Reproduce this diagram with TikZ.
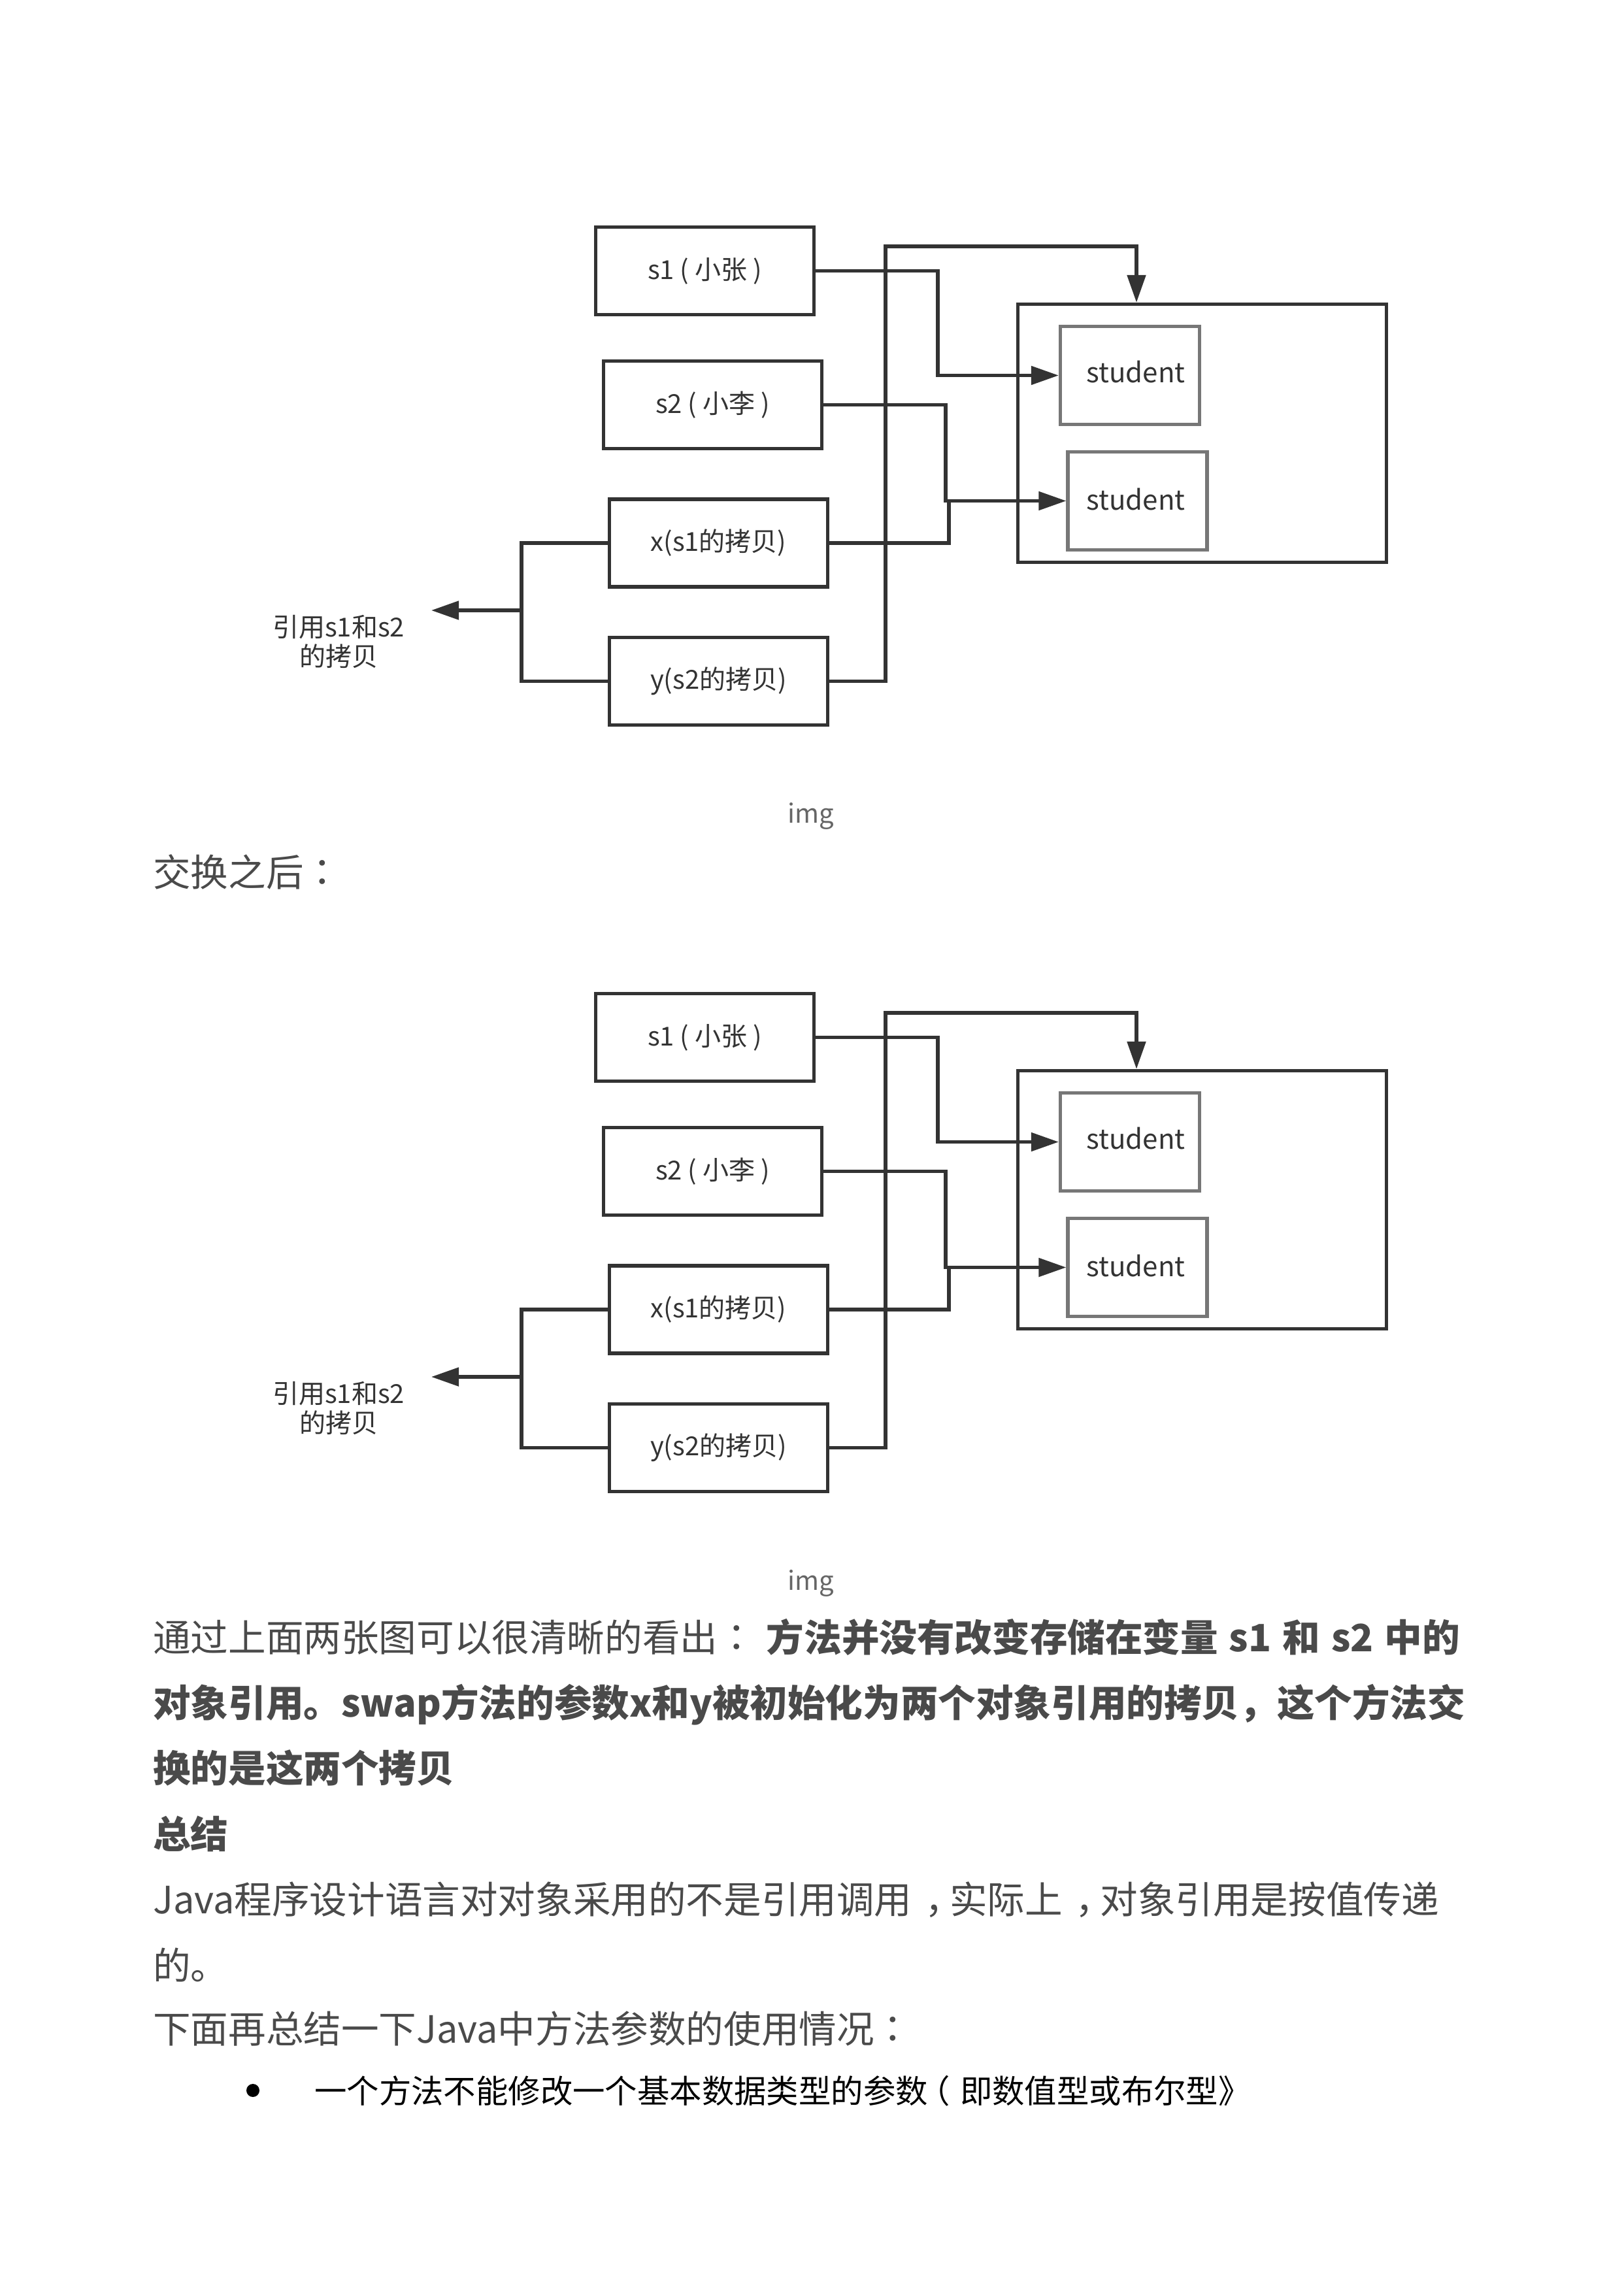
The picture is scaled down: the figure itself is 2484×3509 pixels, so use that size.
\documentclass[tikz,border=0pt]{standalone}
\usepackage{fontspec}
\setmainfont{Noto Sans CJK SC}
\newfontfamily\tcpunct{Noto Sans CJK TC}
\newcommand\cpn[1]{{\tcpunct #1}}
\newcommand\ccomma{\hspace{0.35em}，\hspace{-0.35em}}
\newcommand\cparen{\hspace{-0.3em}（\hspace{0.3em}}
\newcommand\bsp{\hspace{17pt}}
\usetikzlibrary{arrows.meta}
\definecolor{lnc}{HTML}{333333}
\definecolor{stuc}{HTML}{777777}
\definecolor{bodyc}{HTML}{4A4A4A}
\definecolor{capc}{HTML}{666666}
\tikzset{
  ln/.style={draw=lnc, line width=5.2pt},
  arr/.style={ln, -{Triangle[length=42pt,width=28pt]}},
  box/.style={ln, rectangle, inner sep=0pt, minimum width=334pt, minimum height=134pt,
    text=lnc, font=\fontsize{40}{48}\selectfont},
  bigbox/.style={ln, rectangle, inner sep=0pt, minimum width=564pt, minimum height=395pt},
  stubox/.style={draw=stuc, line width=5.2pt, rectangle, inner sep=0pt,
    minimum width=213pt, minimum height=150pt},
  stutext/.style={inner sep=0pt, text=lnc, font=\fontsize{42}{48}\selectfont},
  reflabel/.style={inner sep=0pt, align=center, text=lnc, font=\fontsize{40}{45}\selectfont},
  captext/.style={inner sep=0pt, anchor=base, text=capc, font=\fontsize{40}{48}\selectfont},
  bodytext/.style={inner sep=0pt, anchor=base west, text=bodyc, font=\fontsize{57.6}{70}\selectfont},
  bullettext/.style={inner sep=0pt, anchor=base west, text=black, font=\fontsize{49.4}{60}\selectfont},
}
\newcommand\swapdiagram[1]{%
  \node[box] (s1#1) at (1078.5,414.5) {s1 ( 小张 )};
  \node[box] (s2#1) at (1090.5,619.5) {s2 ( 小李 )};
  \node[box] (xb#1) at (1099.5,831) {x(s1的拷贝)};
  \node[box] (yb#1) at (1099.5,1042.5) {y(s2的拷贝)};
  \node[bigbox] (heap#1) at (1839.5,663) {};
  \node[stubox] (st1#1) at (1729,574.5) {};
  \node[stubox] (st2#1) at (1740.5,766.5) {};
  \node[stutext] (st1t#1) at (1738,569) {student};
  \node[stutext] (st2t#1) at (1738,764) {student};
  \node[reflabel] (ref#1) at (518,982) {引用s1和s2\\的拷贝};
  \coordinate (j1#1) at (1435,0);
  \coordinate (j2#1) at (1447,0);
  \coordinate (j3#1) at (1452,0);
  \coordinate (t1#1) at (1355,377);
  \coordinate (t2#1) at (1739,377);
  \coordinate (bk#1) at (798,0);
  \coordinate (tip#1) at (660,934);
  \draw[arr] (s1#1.east) -| (j1#1 |- st1#1.west) -- (st1#1.west);
  \draw[arr] (s2#1.east) -| (j2#1 |- st2#1.west) -- (st2#1.west);
  \draw[ln] (xb#1.east) -| (j3#1 |- st2#1.west);
  \draw[arr] (yb#1.east) -| (t1#1) -- (t2#1) -- (t2#1 |- heap#1.north);
  \draw[ln] (xb#1.west) -- (xb#1.west -| bk#1) -- (yb#1.west -| bk#1) -- (yb#1.west);
  \draw[arr] (bk#1 |- tip#1) -- (tip#1);
}
\begin{document}
\begin{tikzpicture}[x=1pt,y=-1pt]
  \fill[white] (0,0) rectangle (2484,3509);
  \useasboundingbox (0,0) rectangle (2484,3509);
  \begin{scope}
    \swapdiagram{a}
  \end{scope}
  \node[captext] (cap1) at (1241,1259) {img};
  \node[bodytext] (after) at (234,1356) {交换之后\cpn{：}};
  \begin{scope}[shift={(0,1173)}]
    \swapdiagram{b}
  \end{scope}
  \node[captext] (cap2) at (1241,2433) {img};
  \node[bodytext] (p1) at (234,2527) {通过上面两张图可以很清晰的看出\cpn{：}\bsp\textbf{方法并没有改变存储在变量\bsp s1\bsp 和\bsp s2\bsp 中的}};
  \node[bodytext] (p2) at (234,2627) {\textbf{对象引用。swap方法的参数x和y被初始化为两个对象引用的拷贝，这个方法交}};
  \node[bodytext] (p3) at (234,2727) {\textbf{换的是这两个拷贝}};
  \node[bodytext] (p4) at (234,2828) {\textbf{总结}};
  \node[bodytext] (p5) at (234,2928) {Java程序设计语言对对象采用的不是引用调用\ccomma 实际上\ccomma 对象引用是按值传递};
  \node[bodytext] (p6) at (234,3029) {的。};
  \node[bodytext] (p7) at (234,3126) {下面再总结一下Java中方法参数的使用情况\cpn{：}};
  \node[circle, fill=black, inner sep=0pt, minimum size=20pt] (dot) at (387,3199) {};
  \node[bullettext] (p8) at (481,3218) {一个方法不能修改一个基本数据类型的参数\cparen 即数值型或布尔型》};
\end{tikzpicture}
\end{document}
